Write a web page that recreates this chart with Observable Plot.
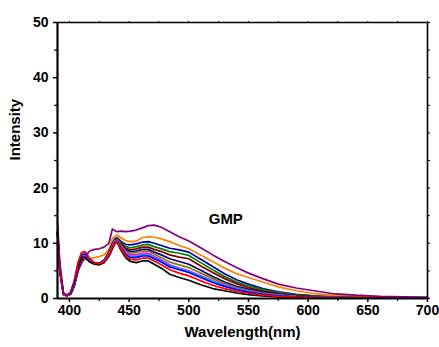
<!DOCTYPE html>
<html>
<head>
<meta charset="utf-8">
<script src="https://cdn.jsdelivr.net/npm/d3@7"></script>
<script src="https://cdn.jsdelivr.net/npm/@observablehq/plot@0.6"></script>
<style>
  html, body { margin: 0; padding: 0; background: #fff; }
  #chart { width: 439px; height: 347px; }
</style>
</head>
<body>
<div id="chart"></div>
<script>
const wavelength = [390, 392, 395, 398, 401, 404, 407, 410, 413, 417, 421, 425, 429, 433, 436, 438, 440, 443, 447, 451, 456, 461, 466, 471, 477, 484, 492, 500, 510, 520, 530, 540, 550, 562, 575, 590, 605, 620, 640, 660, 680, 700];

const black   = [12.0, 5, 0.9, 0.6, 1.0, 2.8, 5.6, 7.4, 7.5, 6.6, 6.2, 6.1, 6.5, 7.6, 9.0, 9.9, 10.2, 8.8, 7.4, 6.7, 6.5, 6.8, 6.8, 6.2, 5.5, 4.4, 3.8, 3.3, 2.5, 1.8, 1.4, 1.0, 0.7, 0.45, 0.3, 0.2, 0.15, 0.12, 0.1, 0.08, 0.06, 0.05];
const red     = [12.0, 5, 0.8, 0.5, 1.0, 3.2, 6.4, 8.3, 8.5, 7.3, 6.4, 6.3, 6.6, 7.8, 9.3, 10.0, 10.3, 9.1, 7.8, 7.1, 7.0, 7.3, 7.3, 6.8, 6.1, 5.2, 4.6, 4.1, 3.2, 2.4, 1.8, 1.3, 0.95, 0.6, 0.4, 0.25, 0.18, 0.14, 0.1, 0.08, 0.06, 0.05];
const blue    = [12.0, 5, 0.8, 0.5, 0.9, 3.0, 6.1, 7.9, 8.1, 7.2, 6.3, 6.2, 6.6, 7.8, 9.3, 10.1, 10.4, 9.3, 8.0, 7.4, 7.4, 7.7, 7.7, 7.2, 6.6, 5.7, 5.2, 4.7, 3.8, 2.9, 2.2, 1.6, 1.15, 0.75, 0.5, 0.3, 0.2, 0.15, 0.11, 0.09, 0.07, 0.05];
const cyan    = [12.0, 5, 0.7, 0.5, 0.9, 2.8, 5.8, 7.6, 7.9, 7.1, 6.3, 6.2, 6.7, 7.9, 9.4, 10.2, 10.5, 9.4, 8.1, 7.6, 7.6, 7.9, 7.9, 7.4, 6.8, 5.9, 5.4, 4.9, 4.0, 3.1, 2.3, 1.7, 1.25, 0.8, 0.55, 0.35, 0.24, 0.16, 0.12, 0.09, 0.07, 0.05];
const magenta = [12.0, 5, 0.7, 0.5, 0.9, 2.7, 5.6, 7.5, 7.8, 7.0, 6.3, 6.2, 6.7, 8.0, 9.5, 10.3, 10.5, 9.5, 8.3, 7.9, 7.9, 8.2, 8.2, 7.6, 7.0, 6.1, 5.5, 5.0, 4.1, 3.2, 2.4, 1.8, 1.3, 0.85, 0.6, 0.35, 0.24, 0.16, 0.12, 0.09, 0.07, 0.05];
const olive   = [12.0, 5, 0.7, 0.5, 0.8, 2.5, 5.3, 7.3, 7.7, 7.0, 6.3, 6.2, 6.7, 8.0, 9.6, 10.4, 10.6, 9.7, 8.6, 8.2, 8.3, 8.6, 8.6, 8.0, 7.4, 6.6, 6.1, 5.6, 4.6, 3.6, 2.7, 2.0, 1.5, 1.0, 0.65, 0.4, 0.27, 0.18, 0.13, 0.1, 0.07, 0.05];
const navy    = [12.0, 5, 0.7, 0.5, 0.8, 2.4, 5.2, 7.2, 7.7, 7.0, 6.3, 6.2, 6.8, 8.1, 9.7, 10.5, 10.6, 9.8, 8.8, 8.5, 8.6, 8.9, 8.9, 8.4, 7.9, 7.2, 6.7, 6.2, 5.1, 4.0, 3.0, 2.2, 1.7, 1.15, 0.75, 0.45, 0.3, 0.2, 0.14, 0.1, 0.08, 0.06];
const wine    = [12.0, 5, 0.7, 0.5, 0.8, 2.3, 5.0, 7.0, 7.6, 7.0, 6.4, 6.3, 6.8, 8.2, 9.8, 10.5, 10.7, 10.0, 9.1, 8.8, 9.0, 9.3, 9.3, 8.9, 8.5, 7.9, 7.5, 7.2, 5.9, 4.7, 3.6, 2.7, 2.0, 1.35, 0.9, 0.55, 0.35, 0.22, 0.15, 0.11, 0.08, 0.06];
const green   = [12.0, 5, 0.7, 0.5, 0.8, 2.2, 4.9, 6.9, 7.5, 7.0, 6.4, 6.3, 6.9, 8.3, 9.9, 10.6, 10.8, 10.2, 9.4, 9.2, 9.4, 9.7, 9.8, 9.4, 9.0, 8.5, 8.2, 7.8, 6.5, 5.2, 4.0, 3.0, 2.3, 1.6, 1.05, 0.65, 0.42, 0.27, 0.17, 0.12, 0.09, 0.06];
const royal   = [12.0, 5, 0.7, 0.5, 0.8, 2.2, 4.8, 6.8, 7.5, 7.0, 6.5, 6.4, 7.0, 8.4, 10.0, 10.8, 11.0, 10.4, 9.8, 9.7, 9.9, 10.2, 10.3, 10.0, 9.6, 9.1, 8.8, 8.4, 7.1, 5.8, 4.5, 3.4, 2.6, 1.8, 1.2, 0.75, 0.47, 0.3, 0.18, 0.13, 0.09, 0.07];
const orange  = [12.5, 5.5, 0.7, 0.5, 0.9, 2.4, 4.9, 6.6, 7.0, 7.2, 7.4, 7.6, 7.9, 8.8, 10.9, 11.2, 11.5, 11.0, 10.5, 10.3, 10.4, 11.0, 11.2, 11.1, 10.8, 10.3, 9.6, 9.0, 7.9, 6.7, 5.5, 4.5, 3.8, 3.0, 2.1, 1.4, 0.9, 0.6, 0.38, 0.25, 0.18, 0.14];
const purple  = [13.8, 6.5, 1.0, 0.6, 1.2, 3.0, 5.0, 6.3, 7.6, 8.6, 8.9, 9.0, 9.3, 10.0, 12.6, 12.3, 12.1, 12.2, 12.1, 12.2, 12.4, 12.8, 13.2, 13.3, 12.9, 12.1, 11.2, 10.4, 9.2, 7.9, 6.7, 5.6, 4.6, 3.6, 2.6, 1.9, 1.4, 0.9, 0.6, 0.4, 0.3, 0.25];

const seriesNames = ["orange", "royal", "green", "wine", "navy", "olive", "magenta", "cyan", "blue", "black", "red", "purple"];
const seriesValues = [orange, royal, green, wine, navy, olive, magenta, cyan, blue, black, red, purple];
const seriesColors = ["#FF8000", "#0000A0", "#008000", "#800000", "#000080", "#808000", "#FF00FF", "#00B0F0", "#0000FF", "#000000", "#FF0000", "#800080"];

const xTicks = [400, 450, 500, 550, 600, 650, 700];
const xMinor = [425, 475, 525, 575, 625, 675];
const yTicks = [0, 10, 20, 30, 40, 50];
const yMinor = [5, 15, 25, 35, 45];
const annotation = [{w: 531, v: 14.3, label: "GMP"}];

const rows = [];
seriesNames.forEach((name, i) => {
  wavelength.forEach((w, j) => rows.push({series: name, w, v: seriesValues[i][j]}));
});

const chart = Plot.plot({
  width: 439,
  height: 347,
  marginLeft: 57,
  marginRight: 12,
  marginTop: 22,
  marginBottom: 49,
  x: {domain: [390, 700]},
  y: {domain: [0, 50]},
  color: {domain: seriesNames, range: seriesColors},
  style: {fontFamily: "'Liberation Sans', Arial, sans-serif", fontWeight: "bold", fontSize: "14px", background: "#fff", color: "#000"},
  marks: [
    Plot.line(rows, {x: "w", y: "v", z: "series", stroke: "series", strokeWidth: 1.7}),
    Plot.ruleX([390], {strokeWidth: 2.2}),
    Plot.ruleY([0], {strokeWidth: 2.2}),
    Plot.ruleX([700], {strokeWidth: 1.6}),
    Plot.ruleY([50], {strokeWidth: 1.6}),
    Plot.axisX({ticks: xTicks, tickSize: 4, tickPadding: 3, strokeWidth: 1.5, label: null, fontSize: 14, fontWeight: "bold"}),
    Plot.axisX({ticks: xMinor, tickSize: 3, strokeWidth: 1.2, tickFormat: () => "", label: null}),
    Plot.axisX({anchor: "top", ticks: xTicks.concat(xMinor), tickSize: 2, strokeWidth: 1, tickFormat: () => "", label: null}),
    Plot.axisY({ticks: yTicks, tickSize: 4, tickPadding: 5, strokeWidth: 1.5, label: null, fontSize: 14, fontWeight: "bold"}),
    Plot.axisY({ticks: yMinor, tickSize: 3, strokeWidth: 1.2, tickFormat: () => "", label: null}),
    Plot.axisY({anchor: "right", ticks: yTicks.concat(yMinor), tickSize: 2, strokeWidth: 1, tickFormat: () => "", label: null}),
    Plot.text(annotation, {x: "w", y: "v", text: "label", fontSize: 15, fontWeight: "bold", fill: "#000"}),
    Plot.text(["Wavelength(nm)"], {frameAnchor: "bottom", dy: 38, fontSize: 15, fontWeight: "bold", fill: "#000"}),
    Plot.text(["Intensity"], {frameAnchor: "left", dx: -42, rotate: -90, fontSize: 15, fontWeight: "bold", fill: "#000"})
  ]
});
document.getElementById("chart").appendChild(chart);
</script>
</body>
</html>
